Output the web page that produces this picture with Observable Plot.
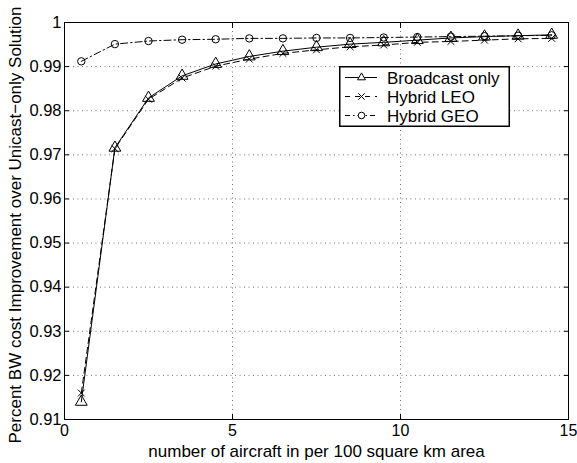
<!DOCTYPE html>
<html>
<head>
<meta charset="utf-8">
<script src="https://cdn.jsdelivr.net/npm/d3@7"></script>
<script src="https://cdn.jsdelivr.net/npm/@observablehq/plot@0.6"></script>
<style>
  html, body { margin: 0; padding: 0; background: #fff; }
  #chart { position: relative; width: 577px; height: 463px; }
  #legend { position: absolute; left: 339px; top: 66px; }
  svg { font-family: "Liberation Sans", Arial, Helvetica, sans-serif; }
</style>
</head>
<body>
<div id="chart"><div id="legend"></div></div>
<script>
// Aircraft density (per 100 km^2) at which each configuration was evaluated
const density = [0.5, 1.5, 2.5, 3.5, 4.5, 5.5, 6.5, 7.5, 8.5, 9.5, 10.5, 11.5, 12.5, 13.5, 14.5];

// Fractional bandwidth-cost improvement over the unicast-only solution
const broadcastOnly = [0.914, 0.9716, 0.9829, 0.9879, 0.9906, 0.9923, 0.9935, 0.9944, 0.9951, 0.9955, 0.9960, 0.9965, 0.9968, 0.9970, 0.9972];
const hybridLEO     = [0.916, 0.9714, 0.9826, 0.9874, 0.9901, 0.9917, 0.9930, 0.9938, 0.9945, 0.9949, 0.9955, 0.9957, 0.9960, 0.9963, 0.9964];
const hybridGEO     = [0.9912, 0.9951, 0.9958, 0.9961, 0.9962, 0.9964, 0.9964, 0.9965, 0.9965, 0.9966, 0.9967, 0.9968, 0.9969, 0.9970, 0.9971];

const xTicks = [0, 5, 10, 15];
const yTicks = [0.91, 0.92, 0.93, 0.94, 0.95, 0.96, 0.97, 0.98, 0.99, 1];
const yTickLabels = ["0.91", "0.92", "0.93", "0.94", "0.95", "0.96", "0.97", "0.98", "0.99", "1"];

const seriesNames = ["Broadcast only", "Hybrid LEO", "Hybrid GEO"];
const xLabel = "number of aircraft in per 100 square km area";
const yLabel = "Percent BW cost Improvement over Unicast\u2212only Solution";

const styles = {
  "Broadcast only": {dash: null, symbol: "triangle", r: 4.4},
  "Hybrid LEO": {dash: "6,4", symbol: "times", r: 3.2},
  "Hybrid GEO": {dash: "7,3,1.5,3", symbol: "circle", r: 3.7}
};

const rows = [];
[broadcastOnly, hybridLEO, hybridGEO].forEach((vals, i) => {
  vals.forEach((v, j) => rows.push({series: seriesNames[i], x: density[j], y: v}));
});
const bySeries = name => rows.filter(d => d.series === name);

const marks = [
  Plot.gridX(xTicks, {stroke: "#000", strokeOpacity: 0.55, strokeDasharray: "1,3.5"}),
  Plot.gridY(yTicks, {stroke: "#000", strokeOpacity: 0.55, strokeDasharray: "1,3.5"}),
  Plot.axisX(xTicks, {anchor: "bottom", tickSize: -5, tickPadding: 10, fontSize: 16, label: null, tickFormat: d => String(d)}),
  Plot.axisX(xTicks, {anchor: "top", tickSize: -5, tickFormat: () => "", label: null}),
  Plot.axisY(yTicks, {anchor: "left", tickSize: -5, tickPadding: 8, fontSize: 16.5, label: null,
    tickFormat: d => yTickLabels[yTicks.indexOf(d)]}),
  Plot.axisY(yTicks, {anchor: "right", tickSize: -5, tickFormat: () => "", label: null}),
  Plot.frame({stroke: "#000", strokeWidth: 1})
];

for (const name of seriesNames) {
  const s = styles[name];
  marks.push(Plot.line(bySeries(name), {x: "x", y: "y", stroke: "#000", strokeWidth: 1,
    strokeDasharray: s.dash}));
}
for (const name of seriesNames) {
  const s = styles[name];
  marks.push(Plot.dot(bySeries(name), {x: "x", y: "y", symbol: () => s.symbol, r: s.r,
    stroke: "#000", strokeWidth: 1, fill: "none"}));
}

marks.push(
  Plot.text([xLabel], {frameAnchor: "bottom", dy: 37, lineAnchor: "bottom", fontSize: 17, fill: "#000"}),
  Plot.text([yLabel], {frameAnchor: "left", dx: -44, dy: 4, rotate: -90, textAnchor: "middle",
    lineAnchor: "bottom", fontSize: 17, fill: "#000", lineWidth: 100})
);

const plot = Plot.plot({
  width: 577,
  height: 463,
  marginLeft: 64,
  marginRight: 9,
  marginTop: 22,
  marginBottom: 44,
  x: {domain: [0, 15]},
  y: {domain: [0.91, 1]},
  symbol: {type: "identity"},
  style: {fontFamily: "'Liberation Sans', Arial, Helvetica, sans-serif", fontSize: "16px", color: "#000", background: "#fff"},
  marks
});
document.getElementById("chart").prepend(plot);

// Legend box with line/marker samples
const lw = 171, lh = 61;
const lg = d3.select("#legend").append("svg").attr("width", lw).attr("height", lh)
  .style("font-family", "'Liberation Sans', Arial, Helvetica, sans-serif");
lg.append("rect").attr("x", 0.75).attr("y", 0.75).attr("width", lw - 1.5).attr("height", lh - 1.5)
  .attr("fill", "#fff").attr("stroke", "#000").attr("stroke-width", 1.5);
seriesNames.forEach((name, i) => {
  const s = styles[name];
  const cy = 11.5 + i * 19;
  lg.append("line").attr("x1", 6).attr("x2", 38).attr("y1", cy).attr("y2", cy)
    .attr("stroke", "#000").attr("stroke-width", 1)
    .attr("stroke-dasharray", s.dash === "6,4" ? "5,5" : s.dash === null ? null : "5,3,1.5,3");
  const sym = s.symbol === "triangle" ? d3.symbolTriangle2 : s.symbol === "times" ? d3.symbolTimes : d3.symbolCircle;
  const r = s.symbol === "times" ? 3 : s.symbol === "triangle" ? 3.8 : 3.3;
  lg.append("path").attr("d", d3.symbol(sym, Math.PI * r * r)())
    .attr("transform", `translate(22.5,${cy})`).attr("fill", "#fff").attr("stroke", "#000");
  lg.append("text").attr("x", 48).attr("y", cy + 6).attr("font-size", 17).text(name);
});
</script>
</body>
</html>
